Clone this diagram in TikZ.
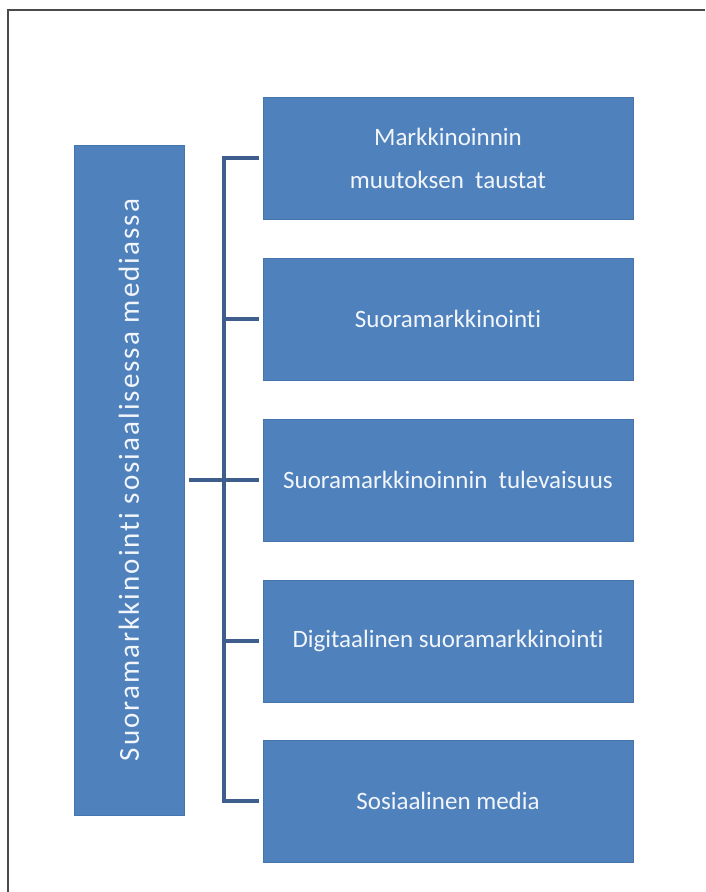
\documentclass[tikz,border=0pt]{standalone}
\usepackage{fontspec}
\setmainfont{Carlito}[Ligatures=NoCommon]
\newfontfamily\vfont{Carlito}[LetterSpace=7,Ligatures=NoCommon]
\definecolor{boxblue}{HTML}{4F81BD}
\definecolor{boxedge}{HTML}{4675AE}
\definecolor{connblue}{HTML}{3E5F8E}
\definecolor{txt}{HTML}{F2F6FB}
\definecolor{frame}{HTML}{4A4A4A}
\tikzset{
  itembox/.style={rectangle, fill=boxblue, draw=boxedge, line width=0.8pt,
    minimum width=370pt, minimum height=122pt, inner sep=0pt, align=center,
    text=txt, font=\fontsize{25}{43}\selectfont},
  mainbox/.style={rectangle, fill=boxblue, draw=boxedge, line width=0.8pt,
    minimum width=110pt, minimum height=670pt, inner sep=0pt},
  conn/.style={draw=connblue, line width=3.5pt},
}
\begin{document}
\begin{tikzpicture}[x=1pt,y=-1pt]
\useasboundingbox (0,0) rectangle (705,892);
\fill[white] (0,0) rectangle (705,892);
% frame
\draw[frame, line width=2pt] (8,892) -- (8,10) -- (705,10);
% main box
\node[mainbox] (main) at (129,480) {};
\node[rotate=90, text=txt, font=\vfont\fontsize{29}{32}\selectfont] (mainlabel) at (129,480) {Suoramarkkinointi sosiaalisessa mediassa};
% item boxes
\node[itembox] (b1) at (448,158) {Markkinoinnin\\muutoksen\ \ taustat};
\node[itembox] (b2) at (448,319) {Suoramarkkinointi};
\node[itembox] (b3) at (448,480) {Suoramarkkinoinnin\ \ tulevaisuus};
\node[itembox] (b4) at (448,641) {Digitaalinen suoramarkkinointi};
\node[itembox] (b5) at (448,801) {Sosiaalinen media};
% connectors
\coordinate (spT) at (224,158);
\coordinate (spB) at (224,801);
\draw[conn, shorten <=4pt, shorten >=4pt] (b1.west) -- (spT) -- (spB) -- (b5.west);
\draw[conn, shorten >=4pt] (b2.west -| spT) -- (b2.west);
\draw[conn, shorten >=4pt] (b4.west -| spT) -- (b4.west);
\draw[conn, shorten <=5pt, shorten >=4pt] (main.east) -- (b3.west);
\end{tikzpicture}
\end{document}
